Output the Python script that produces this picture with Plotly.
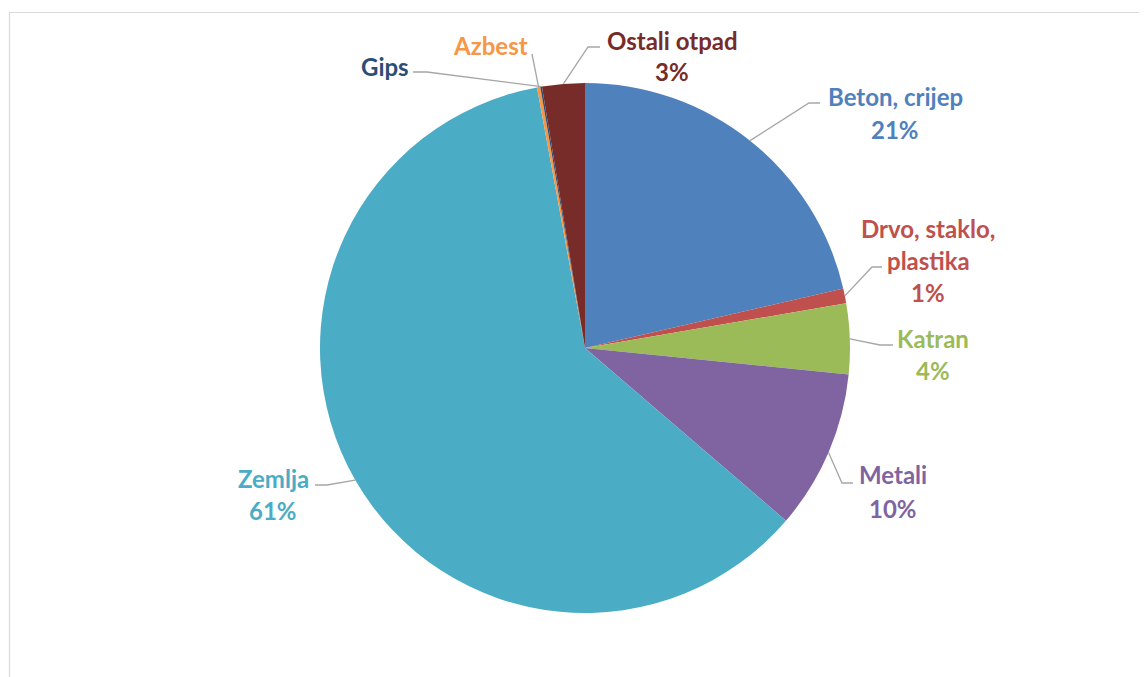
import math
import plotly.graph_objects as go

# ---- data ----
categories = ["Beton, crijep", "Drvo, staklo, plastika", "Katran", "Metali",
              "Zemlja", "Azbest", "Gips", "Ostali otpad"]
values = [21.4, 0.9, 4.3, 9.7, 60.8, 0.2, 0.1, 2.6]
label_lines = [
    ["Beton, crijep", "21%"],
    ["Drvo, staklo,", "plastika", "1%"],
    ["Katran", "4%"],
    ["Metali", "10%"],
    ["Zemlja", "61%"],
    ["Azbest"],
    ["Gips"],
    ["Ostali otpad", "3%"],
]
colors = ["#4F81BD", "#C0504D", "#9BBB59", "#8064A2", "#4BACC6",
          "#F79646", "#2C4D75", "#772C2A"]

# ---- layout (pixels, in screenshot coords) ----
W, H = 1147, 677
OFF = 8  # page body margin
CX, CY, R = 585, 348, 265
# label text center x, first-line center y, line step
label_pos = [
    (895, 97, 33),
    (928, 228, 32),
    (933, 338, 32),
    (893, 475, 33),
    (273, 478, 32),
    (490, 45, 32),
    (385, 67, 32),
    (672, 41, 31),
]
# leader line waypoints after the slice anchor
leader_pts = [
    [(809, 103), (820, 103)],
    [(872, 267), (882, 267)],
    [(880, 345), (893, 345)],
    [(842, 483), (853, 483)],
    [(327, 485), (315, 485)],
    [(532, 54)],
    [(427, 72), (413, 72)],
    [(588, 47), (600, 47)],
]

def px(x):
    return (x - OFF) / W

def py(y):
    return 1 - (y - OFF) / H

fig = go.Figure(go.Pie(
    labels=categories, values=values, sort=False, direction="clockwise",
    rotation=0, marker=dict(colors=colors, line=dict(width=0)),
    textinfo="none", hoverinfo="label+percent", showlegend=False,
    domain=dict(x=[px(CX - R), px(CX + R)], y=[py(CY + R), py(CY - R)]),
))

shapes = [dict(type="rect", xref="paper", yref="paper",
               x0=px(9.5), y0=py(12.5), x1=px(1170), y1=py(720),
               line=dict(color="#D9D9D9", width=1.2), fillcolor="rgba(0,0,0,0)")]
annotations = []
total = sum(values)
cum = 0.0
for i, v in enumerate(values):
    mid = (cum + v / 2) / total * 2 * math.pi
    cum += v
    ax = CX + R * math.sin(mid)
    ay = CY - R * math.cos(mid)
    pts = [(ax, ay)] + leader_pts[i]
    path = "M " + " L ".join(f"{px(x):.5f},{py(y):.5f}" for x, y in pts)
    shapes.append(dict(type="path", xref="paper", yref="paper", path=path,
                       line=dict(color="#A6A6A6", width=1.3)))
    tx, ty, step = label_pos[i]
    for j, line in enumerate(label_lines[i]):
        annotations.append(dict(
            x=px(tx), y=py(ty + j * step), xref="paper", yref="paper",
            text=f"<b>{line}</b>", showarrow=False, xanchor="center",
            yanchor="middle",
            font=dict(family="Lato, Carlito, Calibri, sans-serif", size=24,
                      color=colors[i])))

fig.update_layout(
    width=W, height=H, margin=dict(l=0, r=0, t=0, b=0),
    paper_bgcolor="white", plot_bgcolor="white",
    shapes=shapes, annotations=annotations,
)
fig.write_html("out.html")
